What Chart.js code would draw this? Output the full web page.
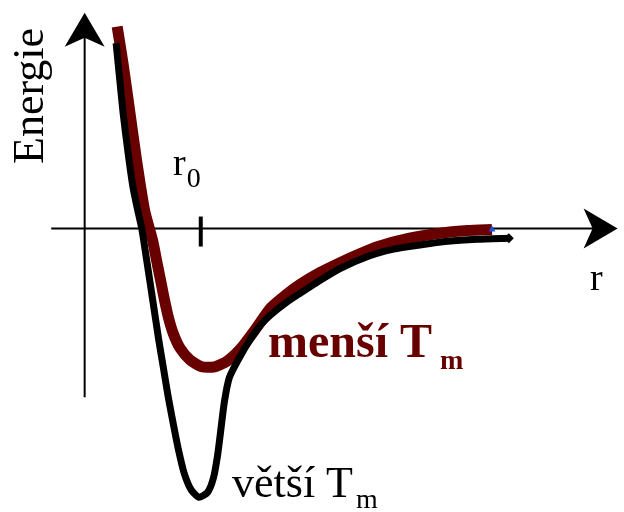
<!DOCTYPE html>
<html lang="cs">
<head>
<meta charset="utf-8">
<title>Energie</title>
<script src="https://cdn.jsdelivr.net/npm/chart.js@4.4.1/dist/chart.umd.min.js"></script>
<style>
  html, body { margin: 0; padding: 0; background: #fff; }
  #wrap { width: 624px; height: 512px; position: relative; }
</style>
</head>
<body>
<div id="wrap"><canvas id="potChart"></canvas></div>
<script>
// vzdálenost r v násobcích r0, energie v libovolných jednotkách
const rMensi = [0.280, 0.331, 0.390, 0.449, 0.517, 0.585, 0.627, 0.661, 0.686, 0.720, 0.763, 0.822, 0.907, 1.008, 1.119, 1.229, 1.347, 1.475, 1.602, 1.729, 1.856, 2.025, 2.195, 2.364, 2.534, 2.788, 3.042, 3.297, 3.508];
const eMensi = [2.06, 1.68, 1.18, 0.68, 0.18, -0.12, -0.37, -0.57, -0.72, -0.90, -1.07, -1.22, -1.34, -1.41, -1.41, -1.35, -1.22, -1.02, -0.81, -0.68, -0.57, -0.45, -0.35, -0.26, -0.18, -0.10, -0.05, -0.02, -0.01];

const rVetsi = [0.271, 0.297, 0.331, 0.373, 0.415, 0.458, 0.492, 0.534, 0.585, 0.636, 0.678, 0.720, 0.763, 0.805, 0.856, 0.915, 0.983, 1.059, 1.110, 1.144, 1.169, 1.203, 1.246, 1.331, 1.432, 1.517, 1.602, 1.729, 1.856, 2.025, 2.195, 2.449, 2.661, 2.873, 3.127, 3.381, 3.653];
const eVetsi = [1.89, 1.58, 1.18, 0.78, 0.43, 0.18, 0.00, -0.32, -0.72, -1.12, -1.42, -1.72, -1.99, -2.24, -2.49, -2.66, -2.74, -2.69, -2.54, -2.32, -2.09, -1.77, -1.52, -1.32, -1.12, -0.98, -0.88, -0.76, -0.66, -0.53, -0.41, -0.28, -0.21, -0.17, -0.13, -0.11, -0.10];

const R_MIN = -0.686, R_MAX = 4.602;
const E_MIN = -2.84, E_MAX = 2.28;

const tmavaCervena = '#680000';
const serif = '"Liberation Serif", "Times New Roman", serif';

function toPoints(xs, ys) {
    return xs.map((x, i) => ({ x: x, y: ys[i] }));
}

// šipka s vykrojenou základnou, hrot v (tx, ty), směr (dx, dy)
function arrowHead(ctx, tx, ty, dx, dy) {
    const len = 34, half = 20, notch = 9;
    const px = -dy, py = dx;
    const bx = tx - dx * len, by = ty - dy * len;
    ctx.beginPath();
    ctx.moveTo(tx, ty);
    ctx.lineTo(bx + px * half, by + py * half);
    ctx.lineTo(tx - dx * (len - notch), ty - dy * (len - notch));
    ctx.lineTo(bx - px * half, by - py * half);
    ctx.closePath();
    ctx.fill();
}

// text s dolním indexem hned za ním
function withSub(ctx, text, sub, x, y, font, subFont, gap, drop) {
    ctx.font = font;
    ctx.fillText(text, x, y);
    const w = ctx.measureText(text).width;
    ctx.font = subFont;
    ctx.fillText(sub, x + w + gap, y + drop);
}

// osy, značka r0 a popisky
const axesPlugin = {
    id: 'axesPlugin',
    beforeDatasetsDraw(chart) {
        const ctx = chart.ctx;
        const xs = chart.scales.x, ys = chart.scales.y;
        const x0 = xs.getPixelForValue(0), y0 = ys.getPixelForValue(0);
        ctx.save();
        ctx.strokeStyle = '#000';
        ctx.fillStyle = '#000';
        ctx.lineWidth = 2;
        // svislá osa
        ctx.beginPath();
        ctx.moveTo(x0, ys.getPixelForValue(-1.72));
        ctx.lineTo(x0, ys.getPixelForValue(2.0));
        ctx.stroke();
        arrowHead(ctx, x0, ys.getPixelForValue(2.2), 0, -1);
        // vodorovná osa
        ctx.beginPath();
        ctx.moveTo(xs.getPixelForValue(-0.288), y0);
        ctx.lineTo(xs.getPixelForValue(4.4), y0);
        ctx.stroke();
        arrowHead(ctx, xs.getPixelForValue(4.59), y0, 1, 0);
        // r0
        ctx.lineWidth = 4;
        ctx.beginPath();
        ctx.moveTo(xs.getPixelForValue(1), y0 - 12);
        ctx.lineTo(xs.getPixelForValue(1), y0 + 18);
        ctx.stroke();
        ctx.restore();
    },
    afterDraw(chart) {
        const ctx = chart.ctx;
        ctx.save();
        ctx.fillStyle = '#000';
        ctx.textBaseline = 'alphabetic';
        ctx.textAlign = 'left';

        // Energie (svisle)
        ctx.save();
        ctx.translate(43, 164);
        ctx.rotate(-Math.PI / 2);
        ctx.font = '44px ' + serif;
        ctx.fillText('Energie', 0, 0);
        ctx.restore();

        withSub(ctx, 'r', '0', 173, 175, '38px ' + serif, '28px ' + serif, 1, 12);

        ctx.font = '38px ' + serif;
        ctx.fillText('r', 590, 290);

        ctx.fillStyle = tmavaCervena;
        withSub(ctx, 'menší T', 'm', 268, 357, 'bold 48px ' + serif, 'bold 28px ' + serif, 8, 12);

        ctx.fillStyle = '#000';
        withSub(ctx, 'větší T', 'm', 232, 497, '44px ' + serif, '28px ' + serif, 3, 11);
        ctx.restore();
    }
};

const lastOnly = (n, r) => Array.from({ length: n }, (_, i) => (i === n - 1 ? r : 0));

new Chart(document.getElementById('potChart'), {
    type: 'scatter',
    data: {
        datasets: [{
            label: 'větší Tm',
            data: toPoints(rVetsi, eVetsi),
            showLine: true,
            borderColor: '#000',
            borderWidth: 7,
            borderCapStyle: 'butt',
            borderJoinStyle: 'round',
            tension: 0.2,
            pointStyle: 'rectRot',
            pointRadius: lastOnly(rVetsi.length, 5),
            pointBackgroundColor: '#000',
            pointBorderWidth: 0,
            order: 0
        }, {
            label: 'menší Tm',
            data: toPoints(rMensi, eMensi),
            showLine: true,
            borderColor: tmavaCervena,
            borderWidth: 11,
            borderCapStyle: 'butt',
            borderJoinStyle: 'round',
            tension: 0.2,
            pointStyle: 'triangle',
            pointRadius: lastOnly(rMensi.length, 4),
            pointBackgroundColor: '#1f4fe0',
            pointBorderWidth: 0,
            order: 1
        }]
    },
    options: {
        responsive: true,
        maintainAspectRatio: false,
        animation: false,
        layout: { padding: 0 },
        plugins: {
            legend: { display: false },
            tooltip: { enabled: false }
        },
        scales: {
            x: { type: 'linear', min: R_MIN, max: R_MAX, display: false },
            y: { type: 'linear', min: E_MIN, max: E_MAX, display: false }
        }
    },
    plugins: [axesPlugin]
});
</script>
</body>
</html>
